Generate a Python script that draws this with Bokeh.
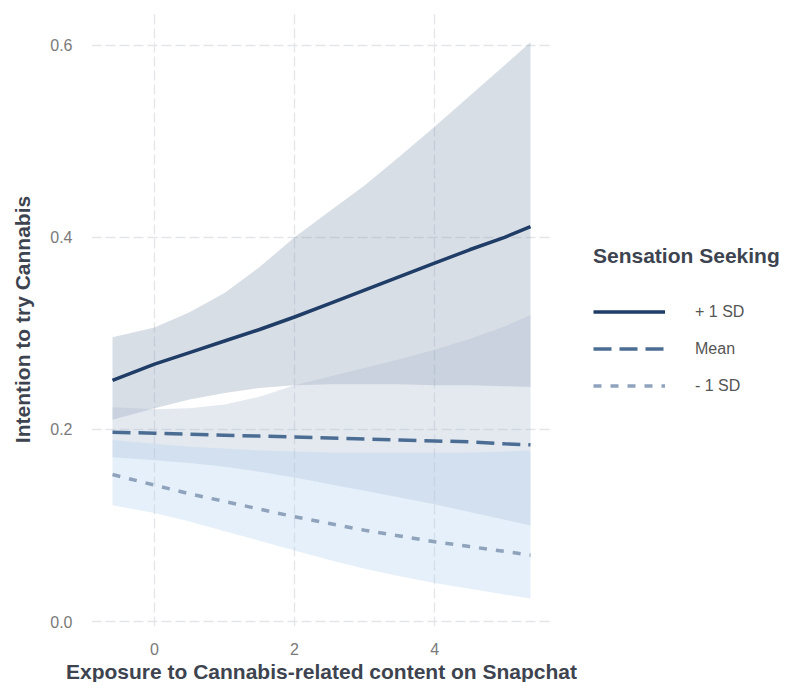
from bokeh.plotting import figure
from bokeh.layouts import row, column
from bokeh.models import Range1d, FixedTicker, NumeralTickFormatter, Legend, LegendItem, Label
from bokeh.embed import file_html
from bokeh.resources import INLINE

# ---- data ----
exposure = [-0.6, 0, 0.5, 1, 1.5, 2, 2.5, 3, 3.5, 4, 4.5, 5, 5.37]

hi_fit   = [0.251, 0.268, 0.280, 0.292, 0.304, 0.317, 0.331, 0.345, 0.359, 0.373, 0.387, 0.400, 0.411]
hi_upper = [0.296, 0.306, 0.322, 0.342, 0.369, 0.400, 0.427, 0.454, 0.484, 0.515, 0.547, 0.579, 0.603]
hi_lower = [0.210, 0.222, 0.231, 0.238, 0.243, 0.246, 0.247, 0.247, 0.247, 0.246, 0.246, 0.245, 0.244]

mean_fit   = [0.197, 0.196, 0.195, 0.194, 0.193, 0.192, 0.191, 0.190, 0.189, 0.188, 0.187, 0.185, 0.184]
mean_upper = [0.223, 0.221, 0.222, 0.226, 0.234, 0.246, 0.255, 0.264, 0.273, 0.283, 0.294, 0.307, 0.319]
mean_lower = [0.171, 0.168, 0.165, 0.161, 0.156, 0.150, 0.143, 0.136, 0.129, 0.122, 0.114, 0.106, 0.100]

lo_fit   = [0.153, 0.142, 0.133, 0.125, 0.117, 0.109, 0.102, 0.095, 0.089, 0.083, 0.078, 0.073, 0.069]
lo_upper = [0.189, 0.185, 0.182, 0.180, 0.178, 0.177, 0.176, 0.176, 0.176, 0.176, 0.176, 0.177, 0.178]
lo_lower = [0.121, 0.113, 0.104, 0.094, 0.084, 0.074, 0.064, 0.055, 0.047, 0.040, 0.034, 0.028, 0.024]

series_labels = ["+ 1 SD", "Mean", "- 1 SD"]
x_ticks = [0, 2, 4]
y_ticks = [0.0, 0.2, 0.4, 0.6]
x_title = "Exposure to Cannabis-related content on Snapchat"
y_title = "Intention to try Cannabis"
legend_title = "Sensation Seeking"

FONT = "Liberation Sans"
TITLE_COLOR = "#3d4450"
line_colors = ["#1f3d66", "#4b6d94", "#8fa3bd"]
fill_colors = ["#7d91ac", "#a5b6cd", "#acccee"]
dashes = ["solid", "18 8", "8 9"]

PH = 660          # height of the plot panel figure
TH = 22           # height of the strip holding the x-axis title
LW = 230          # width of the legend figure


def blank(fig):
    fig.outline_line_color = None
    fig.background_fill_color = "white"
    fig.border_fill_color = "white"


p = figure(width=551, height=PH,
           x_range=Range1d(-0.9, 5.67), y_range=Range1d(-0.0052, 0.634),
           output_backend="svg", toolbar_location=None,
           min_border_left=91, min_border_right=0,
           min_border_top=12, min_border_bottom=PH - 626)
blank(p)

# ribbons
for lo_, up_, fc in [(hi_lower, hi_upper, fill_colors[0]),
                     (mean_lower, mean_upper, fill_colors[1]),
                     (lo_lower, lo_upper, fill_colors[2])]:
    p.varea(x=exposure, y1=lo_, y2=up_, fill_color=fc, fill_alpha=0.3)

# lines
for ys, lc, d in zip([hi_fit, mean_fit, lo_fit], line_colors, dashes):
    p.line(exposure, ys, line_color=lc, line_width=3.5, line_dash=d)

# axes
p.xaxis.ticker = FixedTicker(ticks=x_ticks)
p.yaxis.ticker = FixedTicker(ticks=y_ticks)
p.yaxis.formatter = NumeralTickFormatter(format="0.0")
for ax in [p.xaxis[0], p.yaxis[0]]:
    ax.axis_line_color = None
    ax.major_tick_line_color = None
    ax.minor_tick_line_color = None
    ax.major_tick_out = 0
    ax.major_tick_in = 0
    ax.major_label_text_font = FONT
    ax.major_label_text_font_size = "16px"
    ax.major_label_text_color = "#7a7a7a"
    ax.axis_label_text_font = FONT
    ax.axis_label_text_font_size = "21px"
    ax.axis_label_text_font_style = "bold"
    ax.axis_label_text_color = TITLE_COLOR

p.yaxis.axis_label = y_title
p.xaxis.major_label_standoff = 16
p.yaxis.major_label_standoff = 19
p.yaxis.axis_label_standoff = 13

p.grid.grid_line_color = "#e3e5e9"
p.grid.grid_line_width = 1.3
p.grid.grid_line_dash = "10 4"
p.grid.minor_grid_line_color = None

# legend figure, to the right of the plot panel
q = figure(width=LW, height=PH, x_range=Range1d(0, 1), y_range=Range1d(0, 1),
           x_axis_type=None, y_axis_type=None,
           output_backend="svg", toolbar_location=None,
           min_border_left=0, min_border_right=0, min_border_top=0, min_border_bottom=0)
blank(q)
keys = []
for lc, d in zip(line_colors, dashes):
    # key lines only: their points lie outside the visible range
    keys.append(q.line(x=[5, 6], y=[5, 5], line_color=lc, line_width=3.5, line_dash=d))

legend = Legend(
    items=[LegendItem(label=lab, renderers=[r]) for lab, r in zip(series_labels, keys)],
    title=legend_title,
    location=(42, 222),
    orientation="vertical",
)
legend.title_text_font = FONT
legend.title_text_font_size = "21px"
legend.title_text_font_style = "bold"
legend.title_text_color = TITLE_COLOR
legend.title_standoff = 25
legend.label_text_font = FONT
legend.label_text_font_size = "16px"
legend.label_text_color = "#555555"
legend.glyph_width = 72
legend.glyph_height = 37
legend.label_height = 37
legend.label_standoff = 30
legend.spacing = 0
legend.padding = 0
legend.margin = 0
legend.border_line_color = None
legend.background_fill_alpha = 0
q.add_layout(legend, "center")

# strip below holding the x-axis title, centred under the plot panel
t = figure(width=551 + LW, height=TH, x_range=Range1d(0, 1), y_range=Range1d(0, 1),
           x_axis_type=None, y_axis_type=None,
           output_backend="svg", toolbar_location=None,
           min_border_left=0, min_border_right=0, min_border_top=0, min_border_bottom=0)
blank(t)
t.add_layout(Label(x=321, y=TH / 2, x_units="screen", y_units="screen",
                   text=x_title, text_align="center", text_baseline="middle",
                   text_font=FONT, text_font_size="21px", text_font_style="bold",
                   text_color=TITLE_COLOR))

layout = column(row(p, q), t)
open("out.html", "w").write(file_html(layout, INLINE))
